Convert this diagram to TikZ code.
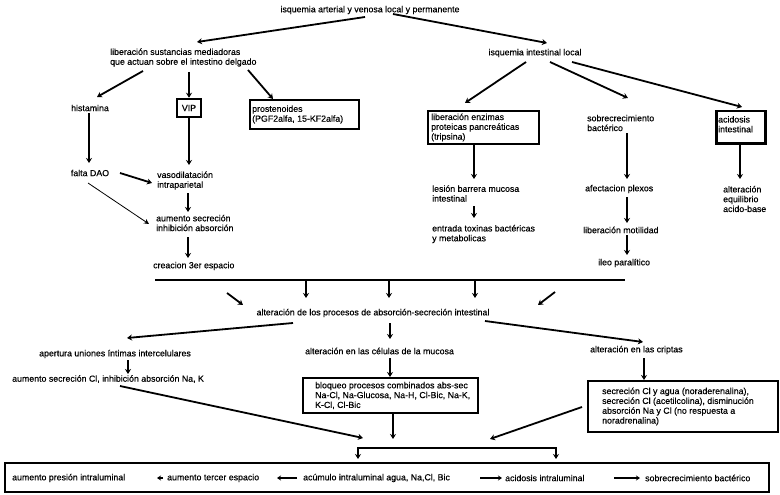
\documentclass[tikz,border=0pt]{standalone}
\usepackage{fontspec}
\setmainfont{Liberation Sans}
\newfontface\heavyface{Liberation Sans}[FakeBold=0.35]
\usetikzlibrary{arrows.meta,calc}
\newcommand{\dfont}{\heavyface\fontsize{8.8}{9.8}\selectfont}
\begin{document}
\begin{tikzpicture}[x=1pt,y=-1pt,
  lbl/.style={inner sep=0pt, align=left, font=\dfont, anchor=west},
  ctr/.style={inner sep=0pt, align=center, font=\dfont},
  box/.style={draw, line width=2pt, inner sep=0pt, anchor=north west},
  arr/.style={line width=1.8pt, -{Stealth[length=5pt,width=6pt]}},
  thinarr/.style={line width=0.8pt, -{Stealth[length=5pt,width=5pt]}},
  barr/.style={line width=1.2pt, -{Stealth[length=4pt,width=5pt]}},
]
\useasboundingbox (0,0) rectangle (780,495);
\fill[white] (0,0) rectangle (780,495);

\node[ctr] (t0) at (370,10) {isquemia arterial y venosa local y permanente};
\node[lbl] (lib) at (110,57.5) {liberación sustancias mediadoras\\que actuan sobre el intestino delgado};
\node[ctr] (isq) at (535,53) {isquemia intestinal local};
\node[ctr] (hist) at (90,108) {histamina};
\node[box, line width=2.5pt, minimum width=24pt, minimum height=18pt, anchor=center, font=\dfont] (vip) at (189,108) {VIP};
\node[box, minimum width=109pt, minimum height=29pt] (prost) at (249,99) {};
\node[lbl] (prostt) at ([xshift=3pt]prost.west) {prostenoides\\(PGF2alfa, 15-KF2alfa)};
\node[box, minimum width=111pt, minimum height=33pt] (enz) at (427,110) {};
\node[lbl] (enzt) at ([xshift=4pt]enz.west) {liberación enzimas\\proteicas pancreáticas\\(tripsina)};
\node[lbl] (sob) at (587,123) {sobrecrecimiento\\bactérico};
\node[box, line width=2.5pt, minimum width=49pt, minimum height=32pt] (acid) at (715,110) {};
\node[lbl] (acidt) at ([xshift=3pt,yshift=3pt]acid.west) {acidosis\\intestinal};

\node[ctr] (falta) at (90,173) {falta DAO};
\node[lbl] (vaso) at (157,180.5) {vasodilatación\\intraparietal};
\node[lbl] (aum) at (156,223) {aumento secreción\\inhibición absorción};
\node[lbl] (creac) at (153,266) {creacion 3er espacio};
\node[lbl] (les) at (432,193.5) {lesión barrera mucosa\\intestinal};
\node[lbl] (ent) at (432,234) {entrada toxinas bactéricas\\y metabolicas};
\node[lbl] (afe) at (585,189) {afectacion plexos};
\node[lbl] (mot) at (583,230) {liberación motilidad};
\node[lbl] (ileo) at (598,263) {ileo paralítico};
\node[lbl] (equ) at (723,199) {alteración\\equilibrio\\acido-base};

\node[ctr] (alt) at (373,313) {alteración de los procesos de absorción-secreción intestinal};
\node[lbl] (ape) at (39,354) {apertura uniones íntimas intercelulares};
\node[lbl] (acl) at (12,379) {aumento secreción Cl, inhibición absorción Na, K};
\node[lbl] (cel) at (305,351) {alteración en las células de la mucosa};
\node[lbl] (cri) at (590,350) {alteración en las criptas};
\node[box, minimum width=175pt, minimum height=35pt] (blq) at (302,377) {};
\node[lbl] (blqt) at ([xshift=13pt]blq.west) {bloqueo procesos combinados abs-sec\\Na-Cl, Na-Glucosa, Na-H, Cl-Bic, Na-K,\\K-Cl, Cl-Bic};
\node[box, minimum width=190pt, minimum height=51pt] (sec) at (587,380) {};
\node[lbl] (sect) at ([xshift=15pt]sec.west) {secreción Cl y agua (noraderenalina),\\secreción Cl (acetilcolina), disminución\\absorción Na y Cl (no respuesta a\\noradrenalina)};

\node[box, minimum width=764pt, minimum height=29pt] (bot) at (4,462) {};
\node[lbl] (b1) at (12,478) {aumento presión intraluminal};
\node[lbl] (b2) at (167,478) {aumento tercer espacio};
\node[lbl] (b3) at (303,478) {acúmulo intraluminal agua, Na,Cl, Bic};
\node[lbl] (b4) at (505,478) {acidosis intraluminal};
\node[lbl] (b5) at (645,478) {sobrecrecimiento bactérico};

\coordinate (barL) at (155,280);
\coordinate (barR) at (625,280);
\coordinate (BL) at (358,448);
\coordinate (BR) at (556,448);

% top
\draw[arr] ([shift={(-5,7)}]t0.center) -- ([shift={(87,-15.5)}]lib.west);
\draw[arr] ([shift={(23,4)}]t0.center) -- ([shift={(12,-10)}]isq.center);
\draw[arr] ([shift={(33,13.5)}]lib.west) -- ([shift={(7,-11)}]hist.center);
\draw[arr] ([shift={(79,14.5)}]lib.west) -- (vip.north);
\draw[arr] ([shift={(138,12.5)}]lib.west) -- ([xshift=24pt]prost.north west);
\draw[arr] ([shift={(-9,9)}]isq.center) -- ([shift={(38,-7)}]enz.north west);
\draw[arr] ([shift={(15,9)}]isq.center) -- ([shift={(41,-25)}]sob.west);
\draw[arr] ([shift={(37,9)}]isq.center) -- ([shift={(27,-3)}]acid.north west);

% left column
\draw[arr] ([shift={(-1,5)}]hist.center) -- ([shift={(-1,-10)}]falta.center);
\draw[arr] (vip.south) -- ([shift={(32,-15.5)}]vaso.west);
\draw[arr] ([shift={(30,0)}]falta.center) -- ([shift={(-5,2.5)}]vaso.west);
\draw[thinarr] ([shift={(-2,10)}]falta.center) -- ([shift={(-7,1)}]aum.west);
\draw[arr] ([shift={(31,12.5)}]vaso.west) -- ([shift={(32,-11)}]aum.west);
\draw[arr] ([shift={(32,14)}]aum.west) -- ([shift={(35,-8)}]creac.west);

% right columns
\draw[arr] ([xshift=47pt]enz.south west) -- ([shift={(42,-14.5)}]les.west);
\draw[arr] ([shift={(42,12.5)}]les.west) -- ([shift={(42,-16)}]ent.west);
\draw[arr] ([shift={(40,10)}]sob.west) -- ([shift={(42,-10)}]afe.west);
\draw[arr] ([shift={(42,8)}]afe.west) -- ([shift={(44,-7)}]mot.west);
\draw[arr] ([shift={(44,5)}]mot.west) -- ([shift={(29,-8)}]ileo.west);
\draw[arr] ([xshift=25pt]acid.south west) -- ([shift={(17,-20)}]equ.west);

% bar
\draw[line width=2.5pt] (barL) -- (barR);
\draw[arr] ([xshift=151pt]barL) -- ([shift={(151,18)}]barL);
\draw[arr] ([xshift=234pt]barL) -- ([shift={(234,18)}]barL);
\draw[arr] ([xshift=320pt]barL) -- ([shift={(320,18)}]barL);
\draw[arr] ([shift={(-146,-20)}]alt.center) -- ([shift={(-130,-8)}]alt.center);
\draw[arr] ([shift={(182,-21)}]alt.center) -- ([shift={(165,-8)}]alt.center);

% lower part
\draw[arr] ([shift={(-80,10)}]alt.center) -- ([shift={(88,-16)}]ape.west);
\draw[arr] ([shift={(17,10)}]alt.center) -- ([shift={(85,-12)}]cel.west);
\draw[arr] ([shift={(112,8)}]alt.center) -- ([shift={(53,-8)}]cri.west);
\draw[arr] ([shift={(89,6)}]ape.west) -- ([shift={(116,-5)}]acl.west);
\draw[arr] ([shift={(85,7)}]cel.west) -- ([xshift=88pt]blq.north west);
\draw[arr] ([shift={(54,8)}]cri.west) -- ([xshift=57pt]sec.north west);
\draw[arr] ([shift={(108,7)}]acl.west) -- ([shift={(5,-10)}]BL);
\draw[arr] ([xshift=91pt]blq.south west) -- ([shift={(35,-9)}]BL);
\draw[arr] ([shift={(-5,0.5)}]sec.west) -- ([shift={(132,-9)}]BL);
\draw[line width=1.8pt, {Stealth[length=5pt,width=6pt]}-{Stealth[length=5pt,width=6pt]}]
  ([shift={(0,11)}]BL) -- (BL) -- (BR) -- ([shift={(0,11)}]BR);

% bottom arrows
\draw[barr] ([xshift=-4pt]b2.west) -- ([xshift=-10pt]b2.west);
\draw[barr] ([xshift=-6pt]b3.west) -- ([xshift=-26pt]b3.west);
\draw[barr] ([xshift=-25pt]b4.west) -- ([xshift=-3pt]b4.west);
\draw[barr] ([xshift=-31pt]b5.west) -- ([xshift=-5pt]b5.west);
\end{tikzpicture}
\end{document}
